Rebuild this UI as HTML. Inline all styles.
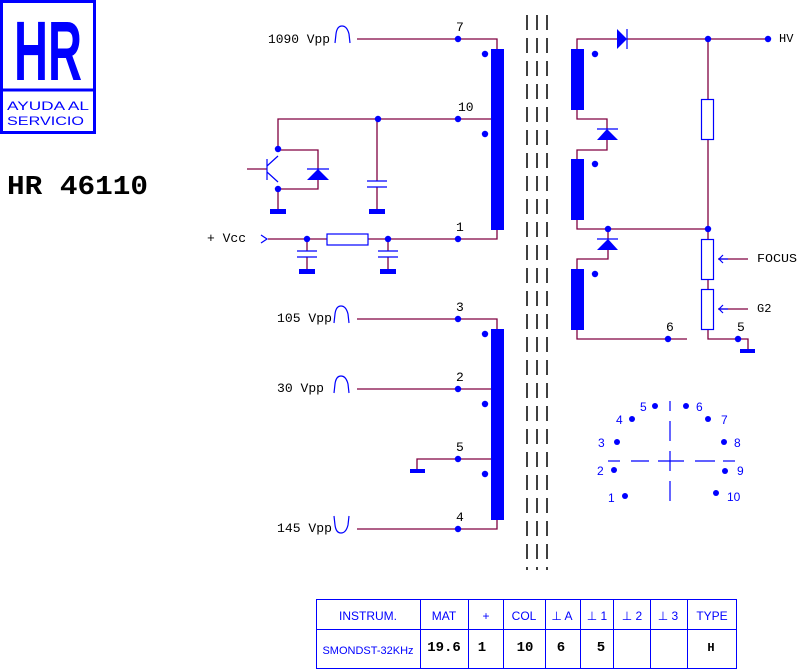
<!DOCTYPE html>
<html><head><meta charset="utf-8"><style>
html,body{margin:0;padding:0;background:#fff;}
svg{display:block;}
.m{font-family:"Liberation Mono",monospace;font-size:13px;fill:#000;}
.s{font-family:"Liberation Sans",sans-serif;font-size:12px;fill:#00f;}
.b{font-family:"Liberation Mono",monospace;font-size:14px;font-weight:bold;fill:#000;}
</style></head><body>
<svg width="798" height="670" viewBox="0 0 798 670" xmlns="http://www.w3.org/2000/svg">
<rect width="798" height="670" fill="#fff"/>
<!-- logo -->
<rect x="1.5" y="1.5" width="93" height="131" fill="none" stroke="#00f" stroke-width="3"/>
<line x1="1" y1="90" x2="95" y2="90" stroke="#00f" stroke-width="3"/>
<text x="48" y="80" text-anchor="middle" font-family="Liberation Sans,sans-serif" font-weight="bold" font-size="84" fill="#00f" textLength="68" lengthAdjust="spacingAndGlyphs">HR</text>
<text x="7" y="110" class="s" font-size="16" textLength="82" lengthAdjust="spacingAndGlyphs">AYUDA AL</text>
<text x="7" y="125" class="s" font-size="16" textLength="77" lengthAdjust="spacingAndGlyphs">SERVICIO</text>
<text x="7" y="194" font-family="Liberation Mono,monospace" font-weight="bold" font-size="27" fill="#000" textLength="141" lengthAdjust="spacingAndGlyphs">HR 46110</text>

<!-- core dashes -->
<g stroke="#000" stroke-width="1.5" stroke-dasharray="15 8">
<line x1="527" y1="15" x2="527" y2="570"/><line x1="537" y1="15" x2="537" y2="570"/><line x1="547" y1="15" x2="547" y2="570"/>
</g>

<g stroke="#800040" stroke-width="1.3" fill="none">
<polyline points="357,39 497,39 497,49"/>
<polyline points="278,150 278,119 497,119"/>
<line x1="377" y1="119" x2="377" y2="181"/><line x1="377" y1="187" x2="377" y2="210"/>
<polyline points="278,150 318,150 318,189 278,189"/>
<line x1="278" y1="189" x2="278" y2="210"/>
<line x1="247" y1="169" x2="267" y2="169"/>
<polyline points="268,239 327,239"/><polyline points="368,239 497,239 497,230"/>
<line x1="307" y1="239" x2="307" y2="251"/><line x1="307" y1="257" x2="307" y2="270"/>
<line x1="388" y1="239" x2="388" y2="251"/><line x1="388" y1="257" x2="388" y2="270"/>
<polyline points="357,319 497,319 497,329"/>
<line x1="357" y1="389" x2="497" y2="389"/>
<polyline points="417,470 417,459 497,459"/>
<polyline points="357,529 497,529 497,520"/>
<polyline points="577,49 577,39 617,39"/><line x1="627" y1="39" x2="768" y2="39"/>
<polyline points="577,110 577,119 607,119 607,129"/><polyline points="607,140 607,150 577,150 577,159"/>
<polyline points="577,220 577,229 708,229"/>
<polyline points="608,229 608,239"/><polyline points="608,250 608,259 577,259 577,269"/>
<polyline points="577,330 577,339 687,339"/>
<line x1="708" y1="39" x2="708" y2="99"/><line x1="708" y1="139" x2="708" y2="239"/>
<line x1="708" y1="279" x2="708" y2="289"/>
<polyline points="708,329 708,339 748,339 748,349"/>
<line x1="718" y1="259" x2="748" y2="259"/><line x1="718" y1="309" x2="748" y2="309"/>
</g>

<g fill="#00f" stroke="none">
<rect x="491" y="49" width="13" height="181"/>
<rect x="491" y="329" width="13" height="191"/>
<rect x="571" y="49" width="13" height="61"/>
<rect x="571" y="159" width="13" height="61"/>
<rect x="571" y="269" width="13" height="61"/>
<circle cx="458" cy="39" r="3.2"/><circle cx="485" cy="54" r="3.2"/><circle cx="458" cy="119" r="3.2"/><circle cx="485" cy="134" r="3.2"/>
<circle cx="378" cy="119" r="3.2"/><circle cx="278" cy="149" r="3.2"/><circle cx="278" cy="189" r="3.2"/>
<circle cx="307" cy="239" r="3.2"/><circle cx="388" cy="239" r="3.2"/><circle cx="458" cy="239" r="3.2"/>
<circle cx="458" cy="319" r="3.2"/><circle cx="485" cy="334" r="3.2"/><circle cx="458" cy="389" r="3.2"/><circle cx="485" cy="404" r="3.2"/>
<circle cx="458" cy="459" r="3.2"/><circle cx="485" cy="474" r="3.2"/><circle cx="458" cy="529" r="3.2"/>
<circle cx="595" cy="54" r="3.2"/><circle cx="595" cy="164" r="3.2"/><circle cx="595" cy="274" r="3.2"/>
<circle cx="708" cy="39" r="3.2"/><circle cx="768" cy="39" r="3.2"/><circle cx="608" cy="229" r="3.2"/><circle cx="708" cy="229" r="3.2"/>
<circle cx="668" cy="339" r="3.2"/><circle cx="738" cy="339" r="3.2"/>
<rect x="270" y="209" width="16" height="5"/><rect x="369" y="209" width="16" height="5"/>
<rect x="299" y="269" width="16" height="5"/><rect x="380" y="269" width="16" height="5"/>
<rect x="410" y="469" width="15" height="4"/><rect x="740" y="349" width="15" height="4"/>
<polygon points="307,180 329,180 318,169"/>
<polygon points="617,29 617,49 627,39"/>
<polygon points="597,140 618,140 607,129"/>
<polygon points="597,250 618,250 608,239"/>
<circle cx="655" cy="406" r="3"/><circle cx="686" cy="406" r="3"/><circle cx="632" cy="419" r="3"/><circle cx="708" cy="419" r="3"/>
<circle cx="617" cy="442" r="3"/><circle cx="724" cy="442" r="3"/><circle cx="614" cy="470" r="3"/><circle cx="725" cy="471" r="3"/>
<circle cx="625" cy="496" r="3"/><circle cx="716" cy="493" r="3"/>
</g>

<g stroke="#00f" stroke-width="1.2" fill="none">
<line x1="367" y1="181" x2="387" y2="181"/><line x1="367" y1="187" x2="387" y2="187"/>
<line x1="297" y1="251" x2="317" y2="251"/><line x1="297" y1="257" x2="317" y2="257"/>
<line x1="378" y1="251" x2="398" y2="251"/><line x1="378" y1="257" x2="398" y2="257"/>
<line x1="307" y1="169" x2="329" y2="169"/><line x1="627" y1="29" x2="627" y2="49"/>
<line x1="597" y1="129" x2="618" y2="129"/><line x1="597" y1="239" x2="618" y2="239"/>
<line x1="267" y1="159" x2="267" y2="180"/><line x1="267" y1="166" x2="278" y2="156"/><line x1="267" y1="172" x2="278" y2="182"/>
<rect x="327" y="234" width="41" height="11"/>
<rect x="701.5" y="99.5" width="12" height="40"/>
<rect x="701.5" y="239.5" width="12" height="40"/>
<rect x="701.5" y="289.5" width="12" height="40"/>
<polyline points="261,235 267,239 261,243"/>
<polyline points="723,255 719,259 723,263"/><line x1="719" y1="259" x2="728" y2="259"/>
<polyline points="723,305 719,309 723,313"/><line x1="719" y1="309" x2="728" y2="309"/>
<path d="M335,43 L336,34 Q337,26 342,26 Q347,26 349,34 L350,43"/>
<path d="M334,323 L335,314 Q336,306 341,306 Q346,306 348,314 L349,323"/>
<path d="M334,393 L335,384 Q336,376 341,376 Q346,376 348,384 L349,393"/>
<path d="M334,516 L335,525 Q336,533 341,533 Q346,533 348,525 L349,516"/>
<line x1="670" y1="401" x2="670" y2="411"/><line x1="670" y1="421" x2="670" y2="441"/>
<line x1="670" y1="451" x2="670" y2="471"/><line x1="670" y1="481" x2="670" y2="501"/>
<line x1="608" y1="461" x2="620" y2="461"/><line x1="631" y1="461" x2="649" y2="461"/>
<line x1="658" y1="461" x2="684" y2="461"/><line x1="695" y1="461" x2="715" y2="461"/><line x1="723" y1="461" x2="735" y2="461"/>
</g>

<g class="m">
<text x="268" y="43" textLength="62" lengthAdjust="spacingAndGlyphs">1090 Vpp</text>
<text x="456" y="31">7</text><text x="458" y="111">10</text><text x="456" y="231">1</text>
<text x="207" y="242" textLength="39" lengthAdjust="spacingAndGlyphs">+ Vcc</text>
<text x="277" y="322" textLength="55" lengthAdjust="spacingAndGlyphs">105 Vpp</text>
<text x="277" y="392" textLength="47" lengthAdjust="spacingAndGlyphs">30 Vpp</text>
<text x="277" y="532" textLength="55" lengthAdjust="spacingAndGlyphs">145 Vpp</text>
<text x="456" y="311">3</text><text x="456" y="381">2</text><text x="456" y="451">5</text><text x="456" y="521">4</text>
<text x="779" y="42" font-size="12">HV</text>
<text x="757" y="262" font-size="12" textLength="40" lengthAdjust="spacingAndGlyphs">FOCUS</text><text x="757" y="312" font-size="12">G2</text>
<text x="666" y="331">6</text><text x="737" y="331">5</text>
</g>
<g class="s" font-size="12">
<text x="640" y="411">5</text><text x="696" y="411">6</text><text x="616" y="424">4</text><text x="721" y="424">7</text>
<text x="598" y="447">3</text><text x="734" y="447">8</text><text x="597" y="475">2</text><text x="737" y="475">9</text>
<text x="608" y="502">1</text><text x="727" y="501">10</text>
</g>

<g stroke="#00f" stroke-width="1" fill="none">
<rect x="316.5" y="599.5" width="420" height="69"/>
<line x1="316" y1="629.5" x2="737" y2="629.5"/>
<line x1="420.5" y1="599" x2="420.5" y2="669"/><line x1="468.5" y1="599" x2="468.5" y2="669"/>
<line x1="503.5" y1="599" x2="503.5" y2="669"/><line x1="545.5" y1="599" x2="545.5" y2="669"/>
<line x1="580.5" y1="599" x2="580.5" y2="669"/><line x1="613.5" y1="599" x2="613.5" y2="669"/>
<line x1="650.5" y1="599" x2="650.5" y2="669"/><line x1="687.5" y1="599" x2="687.5" y2="669"/>
</g>
<g class="s" text-anchor="middle">
<text x="368" y="620">INSTRUM.</text><text x="444" y="620">MAT</text><text x="486" y="620">+</text>
<text x="524" y="620">COL</text><text x="562" y="620">⊥ A</text><text x="597" y="620">⊥ 1</text>
<text x="632" y="620">⊥ 2</text><text x="668" y="620">⊥ 3</text><text x="712" y="620">TYPE</text>
<text x="368" y="654" font-size="11">SMONDST-32KHz</text>
</g>
<g class="b" text-anchor="middle">
<text x="444" y="651">19.6</text><text x="482" y="651">1</text><text x="525" y="651">10</text>
<text x="561" y="651">6</text><text x="601" y="651">5</text><text x="711" y="651" font-size="12">H</text>
</g>
</svg>
</body></html>
